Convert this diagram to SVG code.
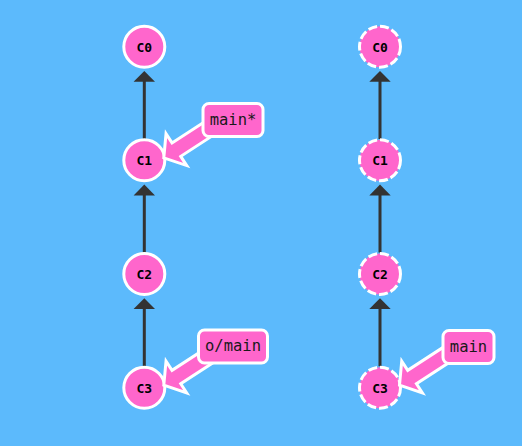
<svg xmlns="http://www.w3.org/2000/svg" width="522" height="446" viewBox="0 0 522 446">
<defs>
<style>
.bg{fill:#5cbafc}
.commit{fill:#ff66cc;stroke:#fff;stroke-width:3}
.dashed{stroke-dasharray:9,3}
.ctext{font-family:"DejaVu Sans Mono","Liberation Mono",monospace;font-size:13px;font-weight:bold;fill:#000;text-anchor:middle}
.edge{stroke:#333;stroke-width:3;fill:none}
.head{fill:#333}
.barrow{fill:#ff66cc;stroke:#fff;stroke-width:3;stroke-linejoin:miter}
.blabel{fill:#ff66cc;stroke:#fff;stroke-width:3}
.btext{font-family:"DejaVu Sans Mono","Liberation Mono",monospace;font-size:15.5px;fill:#1a1a1a;text-anchor:middle}
</style>
<polygon id="arrowShape" points="0,0 -15,-19 -15,-8 -75,-8 -75,8 -15,8 -15,19"/>
</defs>
<rect class="bg" x="0" y="0" width="522" height="446"/>

<g id="connectors">
<line class="edge" x1="144.3" y1="81" x2="144.3" y2="139"/>
<polygon class="head" points="144.3,71 133.6,81.8 155,81.8"/>
<line class="edge" x1="144.3" y1="194.5" x2="144.3" y2="252.5"/>
<polygon class="head" points="144.3,184.6 133.6,195.4 155,195.4"/>
<line class="edge" x1="144.3" y1="308.2" x2="144.3" y2="366.2"/>
<polygon class="head" points="144.3,298.3 133.6,309.1 155,309.1"/>
<line class="edge" x1="380" y1="81" x2="380" y2="139"/>
<polygon class="head" points="380,71 369.3,81.8 390.7,81.8"/>
<line class="edge" x1="380" y1="194.5" x2="380" y2="252.5"/>
<polygon class="head" points="380,184.6 369.3,195.4 390.7,195.4"/>
<line class="edge" x1="380" y1="308.2" x2="380" y2="366.2"/>
<polygon class="head" points="380,298.3 369.3,309.1 390.7,309.1"/>
</g>

<g id="C0-left"><circle class="commit" cx="144.3" cy="46.7" r="20.5"/><text class="ctext" x="144.3" y="51.5">C0</text></g>
<g id="C1-left"><circle class="commit" cx="144.3" cy="160.3" r="20.5"/><text class="ctext" x="144.3" y="165.1">C1</text></g>
<g id="C2-left"><circle class="commit" cx="144.3" cy="274" r="20.5"/><text class="ctext" x="144.3" y="278.8">C2</text></g>
<g id="C3-left"><circle class="commit" cx="144.3" cy="387.7" r="20.5"/><text class="ctext" x="144.3" y="392.5">C3</text></g>

<g id="C0-right"><circle class="commit dashed" cx="380" cy="46.7" r="20.5"/><text class="ctext" x="380" y="51.5">C0</text></g>
<g id="C1-right"><circle class="commit dashed" cx="380" cy="160.3" r="20.5"/><text class="ctext" x="380" y="165.1">C1</text></g>
<g id="C2-right"><circle class="commit dashed" cx="380" cy="274" r="20.5"/><text class="ctext" x="380" y="278.8">C2</text></g>
<g id="C3-right"><circle class="commit dashed" cx="380" cy="387.7" r="20.5"/><text class="ctext" x="380" y="392.5">C3</text></g>

<g id="branch-main-star">
<use href="#arrowShape" class="barrow" transform="translate(163.8,157.8) rotate(147)"/>
<rect class="blabel" x="203" y="103.5" width="60" height="33" rx="6"/>
<text class="btext" x="233" y="124.8">main*</text>
</g>

<g id="branch-o-main">
<use href="#arrowShape" class="barrow" transform="translate(163.8,385.2) rotate(147)"/>
<rect class="blabel" x="198.5" y="330" width="69" height="33" rx="6"/>
<text class="btext" x="233" y="351.3">o/main</text>
</g>

<g id="branch-main">
<use href="#arrowShape" class="barrow" transform="translate(399.5,385.2) rotate(147)"/>
<rect class="blabel" x="443" y="330.5" width="51" height="33" rx="6"/>
<text class="btext" x="468.5" y="351.8">main</text>
</g>
</svg>
